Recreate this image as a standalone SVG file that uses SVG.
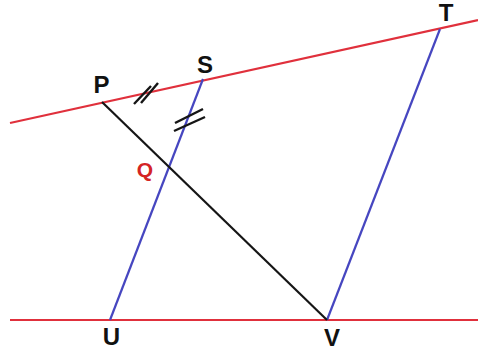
<svg xmlns="http://www.w3.org/2000/svg" width="478" height="354" viewBox="0 0 478 354">
<style>
.red{stroke:#e0303c;stroke-width:2.2;fill:none}
.blue{stroke:#4646c0;stroke-width:2.2;fill:none}
.blk{stroke:#151515;stroke-width:2.2;fill:none}
.tick{stroke:#151515;stroke-width:2.4;fill:none}
text{font-family:"Liberation Sans",Arial,sans-serif;font-weight:bold;font-size:24px;text-anchor:middle;fill:#111}
.q{fill:#d42424;font-size:21px}
</style>
<rect width="478" height="354" fill="#ffffff"/>
<g id="connectors">
<line class="red" x1="10" y1="123" x2="478" y2="20"/>
<line class="red" x1="10" y1="320" x2="478" y2="320"/>
<line class="blue" x1="110" y1="320" x2="203" y2="79"/>
<line class="blue" x1="327" y1="320" x2="440" y2="29"/>
<line class="blk" x1="102" y1="102" x2="327" y2="320"/>
<line class="tick" x1="134" y1="104" x2="151" y2="86"/>
<line class="tick" x1="141" y1="103" x2="158" y2="83"/>
<line class="tick" x1="175" y1="123" x2="203" y2="109"/>
<line class="tick" x1="174" y1="131" x2="205" y2="117"/>
</g>
<g id="P"><text x="101.5" y="93">P</text></g>
<g id="S"><text x="205" y="73">S</text></g>
<g id="T"><text x="446" y="21">T</text></g>
<g id="U"><text x="111.5" y="345">U</text></g>
<g id="V"><text x="332" y="346">V</text></g>
<g id="Q"><text class="q" x="145" y="177">Q</text></g>
</svg>
